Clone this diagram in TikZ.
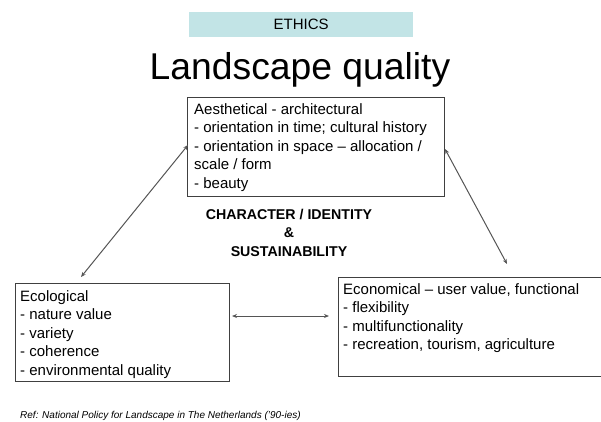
\documentclass[tikz,border=0pt]{standalone}
\usepackage{fontspec}
\setmainfont{Liberation Sans}
\usetikzlibrary{arrows.meta}
\definecolor{boxline}{HTML}{404040}
\definecolor{arrowcol}{HTML}{555555}
\definecolor{ethicsfill}{HTML}{C2E4E6}
\begin{document}
\begin{tikzpicture}[x=1pt,y=-1pt,
  framebox/.style={draw=boxline,line width=0.9pt,inner sep=0pt,anchor=north west},
  boxtext/.style={inner sep=0pt,anchor=north west,align=left,font=\fontsize{15}{18.5}\selectfont},
  biarrow/.style={draw=arrowcol,line width=1pt,{Stealth[length=5pt,width=4pt]}-{Stealth[length=5pt,width=4pt]}}]
\useasboundingbox (0,0) rectangle (601,421);
% Ethics banner
\node[fill=ethicsfill,minimum width=224pt,minimum height=25pt,inner sep=0pt,anchor=north west,font=\fontsize{15}{18}\selectfont] (ethics) at (189,12) {ETHICS};
% Title
\node[inner sep=0pt,anchor=base,font=\fontsize{37.3}{44}\selectfont] (title) at (300,79) {Landscape quality};
% Boxes
\node[framebox,minimum width=257pt,minimum height=99pt] (aes) at (187,97) {};
\node[boxtext] (aestext) at (194,103) {Aesthetical - architectural\\- orientation in time; cultural history\\- orientation in space -- allocation /\\scale / form\\- beauty};
\node[framebox,minimum width=214pt,minimum height=98pt] (eco) at (15,283) {};
\node[boxtext] (ecotext) at (20,290) {Ecological\\- nature value\\- variety\\- coherence\\- environmental quality};
\node[framebox,minimum width=266pt,minimum height=99pt] (econ) at (338,277) {};
\node[boxtext] (econtext) at (343,283) {Economical -- user value, functional\\- flexibility\\- multifunctionality\\- recreation, tourism, agriculture};
% Centre text
\node[inner sep=0pt,anchor=north,align=center,font=\bfseries\fontsize{14.2}{18.5}\selectfont] (centre) at (289,209) {CHARACTER / IDENTITY\\\&\\SUSTAINABILITY};
% Connector end points
\coordinate (aesL) at (188,145);
\coordinate (ecoT) at (81,277);
\coordinate (aesR) at (445,149);
\coordinate (econT) at (507,264);
\coordinate (ecoR) at (232,316);
\coordinate (econL) at (329,316);
\draw[biarrow] (aesL) -- (ecoT);
\draw[biarrow] (aesR) -- (econT);
\draw[biarrow] (ecoR) -- (econL);
% Reference
\node[inner sep=0pt,anchor=base west,font=\itshape\fontsize{10}{12}\selectfont] (ref) at (20,418) {Ref: National Policy for Landscape in The Netherlands ('90-ies)};
\end{tikzpicture}
\end{document}
